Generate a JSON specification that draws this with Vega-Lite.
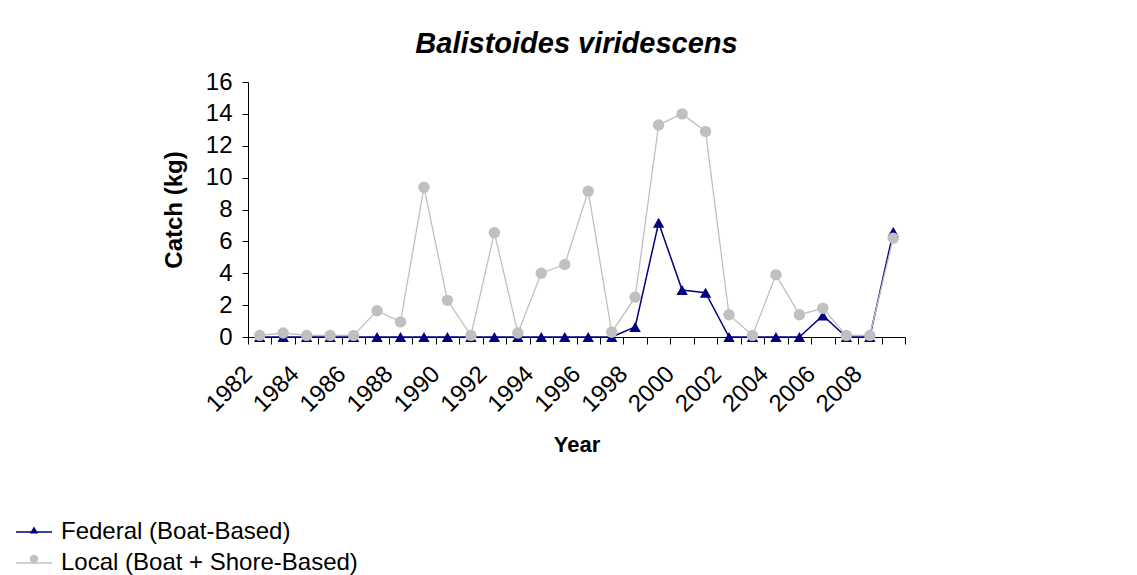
{
  "$schema": "https://vega.github.io/schema/vega-lite/v6.json",
  "width": 657,
  "height": 255,
  "autosize": "none",
  "padding": {"left": 248, "top": 82, "right": 232, "bottom": 238},
  "background": "white",
  "title": {"text": "Balistoides viridescens", "fontSize": 29, "fontStyle": "italic", "fontWeight": "bold", "font": "Liberation Sans", "color": "black", "anchor": "middle", "baseline": "alphabetic", "offset": -12},
  "config": {
    "view": {"stroke": null},
    "font": "Liberation Sans",
    "axis": {"grid": false, "domainColor": "black", "tickColor": "black", "labelColor": "black", "titleColor": "black", "labelFont": "Liberation Sans", "titleFont": "Liberation Sans"},
    "legend": {"padding": 0}
  },
  "data": {
    "values": [
      {"Year": 1982, "Series": "Federal (Boat-Based)", "Catch": 0},
      {"Year": 1983, "Series": "Federal (Boat-Based)", "Catch": 0},
      {"Year": 1984, "Series": "Federal (Boat-Based)", "Catch": 0},
      {"Year": 1985, "Series": "Federal (Boat-Based)", "Catch": 0},
      {"Year": 1986, "Series": "Federal (Boat-Based)", "Catch": 0},
      {"Year": 1987, "Series": "Federal (Boat-Based)", "Catch": 0},
      {"Year": 1988, "Series": "Federal (Boat-Based)", "Catch": 0},
      {"Year": 1989, "Series": "Federal (Boat-Based)", "Catch": 0},
      {"Year": 1990, "Series": "Federal (Boat-Based)", "Catch": 0},
      {"Year": 1991, "Series": "Federal (Boat-Based)", "Catch": 0},
      {"Year": 1992, "Series": "Federal (Boat-Based)", "Catch": 0},
      {"Year": 1993, "Series": "Federal (Boat-Based)", "Catch": 0},
      {"Year": 1994, "Series": "Federal (Boat-Based)", "Catch": 0},
      {"Year": 1995, "Series": "Federal (Boat-Based)", "Catch": 0},
      {"Year": 1996, "Series": "Federal (Boat-Based)", "Catch": 0},
      {"Year": 1997, "Series": "Federal (Boat-Based)", "Catch": 0},
      {"Year": 1998, "Series": "Federal (Boat-Based)", "Catch": 0.63},
      {"Year": 1999, "Series": "Federal (Boat-Based)", "Catch": 7.17},
      {"Year": 2000, "Series": "Federal (Boat-Based)", "Catch": 2.95},
      {"Year": 2001, "Series": "Federal (Boat-Based)", "Catch": 2.78},
      {"Year": 2002, "Series": "Federal (Boat-Based)", "Catch": 0},
      {"Year": 2003, "Series": "Federal (Boat-Based)", "Catch": 0},
      {"Year": 2004, "Series": "Federal (Boat-Based)", "Catch": 0},
      {"Year": 2005, "Series": "Federal (Boat-Based)", "Catch": 0},
      {"Year": 2006, "Series": "Federal (Boat-Based)", "Catch": 1.35},
      {"Year": 2007, "Series": "Federal (Boat-Based)", "Catch": 0},
      {"Year": 2008, "Series": "Federal (Boat-Based)", "Catch": 0},
      {"Year": 2009, "Series": "Federal (Boat-Based)", "Catch": 6.6},
      {"Year": 1982, "Series": "Local (Boat + Shore-Based)", "Catch": 0.1},
      {"Year": 1983, "Series": "Local (Boat + Shore-Based)", "Catch": 0.25},
      {"Year": 1984, "Series": "Local (Boat + Shore-Based)", "Catch": 0.1},
      {"Year": 1985, "Series": "Local (Boat + Shore-Based)", "Catch": 0.1},
      {"Year": 1986, "Series": "Local (Boat + Shore-Based)", "Catch": 0.1},
      {"Year": 1987, "Series": "Local (Boat + Shore-Based)", "Catch": 1.65},
      {"Year": 1988, "Series": "Local (Boat + Shore-Based)", "Catch": 0.95},
      {"Year": 1989, "Series": "Local (Boat + Shore-Based)", "Catch": 9.4},
      {"Year": 1990, "Series": "Local (Boat + Shore-Based)", "Catch": 2.3},
      {"Year": 1991, "Series": "Local (Boat + Shore-Based)", "Catch": 0.1},
      {"Year": 1992, "Series": "Local (Boat + Shore-Based)", "Catch": 6.55},
      {"Year": 1993, "Series": "Local (Boat + Shore-Based)", "Catch": 0.25},
      {"Year": 1994, "Series": "Local (Boat + Shore-Based)", "Catch": 4.0},
      {"Year": 1995, "Series": "Local (Boat + Shore-Based)", "Catch": 4.55},
      {"Year": 1996, "Series": "Local (Boat + Shore-Based)", "Catch": 9.15},
      {"Year": 1997, "Series": "Local (Boat + Shore-Based)", "Catch": 0.3},
      {"Year": 1998, "Series": "Local (Boat + Shore-Based)", "Catch": 2.5},
      {"Year": 1999, "Series": "Local (Boat + Shore-Based)", "Catch": 13.3},
      {"Year": 2000, "Series": "Local (Boat + Shore-Based)", "Catch": 14.0},
      {"Year": 2001, "Series": "Local (Boat + Shore-Based)", "Catch": 12.9},
      {"Year": 2002, "Series": "Local (Boat + Shore-Based)", "Catch": 1.4},
      {"Year": 2003, "Series": "Local (Boat + Shore-Based)", "Catch": 0.1},
      {"Year": 2004, "Series": "Local (Boat + Shore-Based)", "Catch": 3.9},
      {"Year": 2005, "Series": "Local (Boat + Shore-Based)", "Catch": 1.4},
      {"Year": 2006, "Series": "Local (Boat + Shore-Based)", "Catch": 1.8},
      {"Year": 2007, "Series": "Local (Boat + Shore-Based)", "Catch": 0.1},
      {"Year": 2008, "Series": "Local (Boat + Shore-Based)", "Catch": 0.1},
      {"Year": 2009, "Series": "Local (Boat + Shore-Based)", "Catch": 6.2}
    ]
  },
  "encoding": {
    "x": {
      "field": "Year", "type": "quantitative",
      "scale": {"domain": [1981.5, 2009.5], "nice": false, "zero": false},
      "axis": {
        "title": "Year",
        "values": [1981.5, 1982.5, 1983.5, 1984.5, 1985.5, 1986.5, 1987.5, 1988.5, 1989.5, 1990.5, 1991.5, 1992.5, 1993.5, 1994.5, 1995.5, 1996.5, 1997.5, 1998.5, 1999.5, 2000.5, 2001.5, 2002.5, 2003.5, 2004.5, 2005.5, 2006.5, 2007.5, 2008.5, 2009.5],
        "labelExpr": "((datum.value - 1981.5) % 2 == 0 && datum.value < 2009) ? format(datum.value + 0.5, 'd') : ''",
        "labelAngle": -45, "labelAlign": "right", "labelBaseline": "middle",
        "labelPadding": 26, "tickSize": 7, "labelFontSize": 24, "labelOverlap": false, "labelFlush": false,
        "titleFontSize": 22, "titleFontWeight": "bold", "titlePadding": 18
      }
    },
    "y": {
      "field": "Catch", "type": "quantitative",
      "scale": {"domain": [0, 16], "nice": false},
      "axis": {
        "title": "Catch (kg)",
        "values": [0, 2, 4, 6, 8, 10, 12, 14, 16],
        "tickSize": 6, "labelPadding": 10, "labelFontSize": 24,
        "titleFontSize": 24, "titleFontWeight": "bold", "titlePadding": 19
      }
    }
  },
  "layer": [
    {
      "transform": [{"filter": "datum.Series == 'Federal (Boat-Based)'"}],
      "mark": {"type": "line", "strokeWidth": 1.5},
      "encoding": {
        "stroke": {
          "field": "Series", "type": "nominal",
          "scale": {"domain": ["Federal (Boat-Based)", "Local (Boat + Shore-Based)"], "range": ["#000080", "#C0C0C0"]},
          "legend": {"title": null, "orient": "none", "legendX": -233, "legendY": 431, "symbolType": "stroke", "symbolSize": 1296, "symbolStrokeWidth": 1.5, "labelFontSize": 24, "labelFont": "Liberation Sans", "labelColor": "black", "labelOffset": 8, "rowPadding": -3.5, "labelLimit": 500}
        }
      }
    },
    {
      "transform": [{"filter": "datum.Series == 'Federal (Boat-Based)'"}],
      "mark": {"type": "point", "filled": true, "size": 130, "opacity": 1},
      "encoding": {
        "color": {
          "field": "Series", "type": "nominal",
          "scale": {"range": ["#000080", "#C0C0C0"]},
          "legend": {"title": null, "orient": "none", "legendX": -219, "legendY": 443, "symbolSize": 70, "symbolOpacity": 1, "labelExpr": "''", "labelFontSize": 1, "labelOffset": 0, "rowPadding": 20, "labelLimit": 500}
        },
        "shape": {
          "field": "Series", "type": "nominal",
          "scale": {"range": ["triangle-up", "circle"]},
          "legend": {"title": null, "orient": "none", "legendX": -219, "legendY": 443, "symbolSize": 70, "symbolOpacity": 1, "labelExpr": "''", "labelFontSize": 1, "labelOffset": 0, "rowPadding": 20, "labelLimit": 500}
        }
      }
    },
    {
      "transform": [{"filter": "datum.Series == 'Local (Boat + Shore-Based)'"}],
      "mark": {"type": "line", "strokeWidth": 1.3},
      "encoding": {
        "stroke": {"field": "Series", "type": "nominal"}
      }
    },
    {
      "transform": [{"filter": "datum.Series == 'Local (Boat + Shore-Based)'"}],
      "mark": {"type": "point", "filled": true, "size": 130, "opacity": 1},
      "encoding": {
        "color": {"field": "Series", "type": "nominal"},
        "shape": {"field": "Series", "type": "nominal"}
      }
    }
  ]
}
